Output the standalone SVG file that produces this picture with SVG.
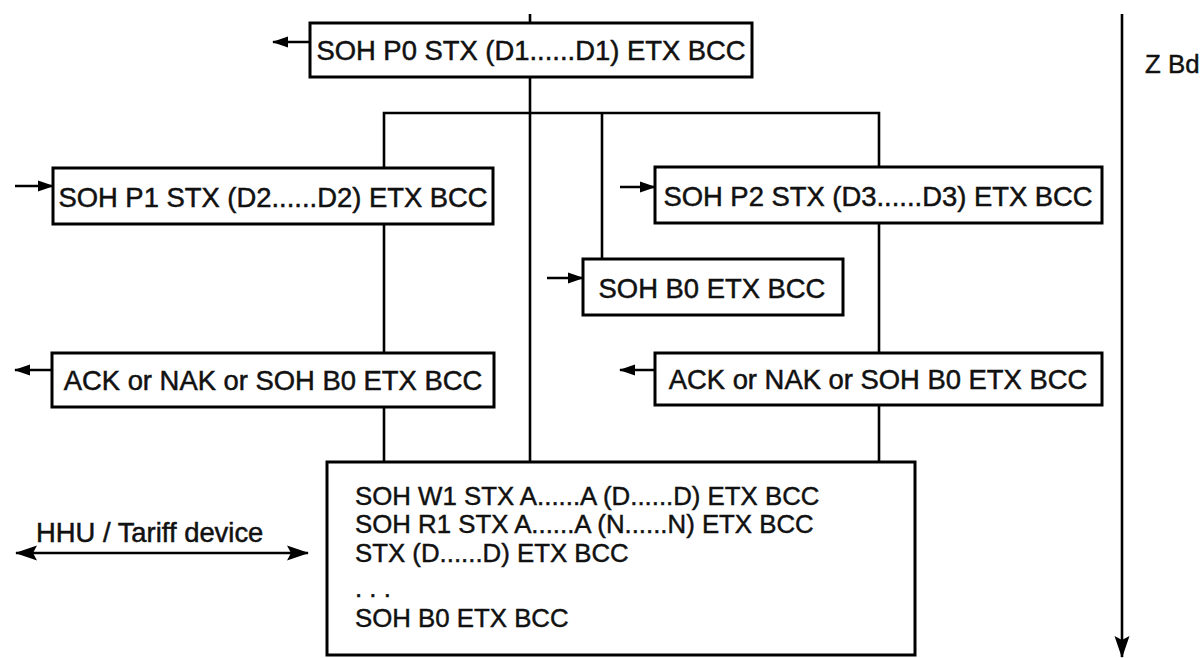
<svg xmlns="http://www.w3.org/2000/svg" width="1204" height="658" viewBox="0 0 1204 658">
<style>
.box{fill:#fff;stroke:#000;stroke-width:3}
.ln{fill:none;stroke:#000;stroke-width:2.6}
.t{font-family:"Liberation Sans",Arial,Helvetica,sans-serif;font-size:27.4px;fill:#111;stroke:#111;stroke-width:0.5}
.tb{font-family:"Liberation Sans",Arial,Helvetica,sans-serif;font-size:25.8px;fill:#111;stroke:#111;stroke-width:0.45}
</style>
<defs>
<marker id="ah" markerUnits="userSpaceOnUse" markerWidth="16" markerHeight="14" refX="15" refY="7" orient="auto-start-reverse"><path d="M0,1.5 L16,7 L0,12.5 z" fill="#000"/></marker>
<marker id="ahb" markerUnits="userSpaceOnUse" markerWidth="22" markerHeight="18" refX="21" refY="9" orient="auto-start-reverse"><path d="M0,1.5 L22,9 L0,16.5 L4,9 z" fill="#000"/></marker>
</defs>
<g id="connectors">
<line class="ln" x1="530" y1="14" x2="530" y2="462"/>
<polyline class="ln" points="384,168 384,113 879,113 879,167"/>
<line class="ln" x1="602" y1="113" x2="602" y2="259"/>
<line class="ln" x1="384" y1="224" x2="384" y2="353"/>
<line class="ln" x1="879" y1="223" x2="879" y2="353"/>
<line class="ln" x1="384" y1="407" x2="384" y2="462"/>
<line class="ln" x1="879" y1="405" x2="879" y2="462"/>
<line class="ln" x1="310" y1="42" x2="273" y2="42" marker-end="url(#ah)"/>
<line class="ln" x1="15" y1="186" x2="53" y2="186" marker-end="url(#ah)"/>
<line class="ln" x1="620" y1="187" x2="655" y2="187" marker-end="url(#ah)"/>
<line class="ln" x1="547" y1="278" x2="583" y2="278" marker-end="url(#ah)"/>
<line class="ln" x1="52" y1="370" x2="15" y2="370" marker-end="url(#ah)"/>
<line class="ln" x1="655" y1="370" x2="620" y2="370" marker-end="url(#ah)"/>
<line class="ln" x1="16" y1="553" x2="308" y2="553" marker-start="url(#ahb)" marker-end="url(#ahb)"/>
<line class="ln" x1="1122" y1="14" x2="1122" y2="657" stroke-width="3" marker-end="url(#ahb)"/>
</g>
<g id="p0">
<rect class="box" x="310" y="23" width="442" height="54"/>
<text class="t" x="531" y="60" text-anchor="middle">SOH P0 STX (D1......D1) ETX BCC</text>
</g>
<g id="p1">
<rect class="box" x="53" y="168" width="440" height="56"/>
<text class="t" x="273" y="207" text-anchor="middle">SOH P1 STX (D2......D2) ETX BCC</text>
</g>
<g id="p2">
<rect class="box" x="655" y="167" width="447" height="56"/>
<text class="t" x="878" y="206" text-anchor="middle">SOH P2 STX (D3......D3) ETX BCC</text>
</g>
<g id="b0">
<rect class="box" x="583" y="259" width="260" height="56"/>
<text class="t" x="712" y="298" text-anchor="middle">SOH B0 ETX BCC</text>
</g>
<g id="ack-left">
<rect class="box" x="52" y="353" width="442" height="54"/>
<text class="t" x="273" y="390" text-anchor="middle">ACK or NAK or SOH B0 ETX BCC</text>
</g>
<g id="ack-right">
<rect class="box" x="655" y="353" width="447" height="52"/>
<text class="t" x="878" y="389" text-anchor="middle">ACK or NAK or SOH B0 ETX BCC</text>
</g>
<g id="main">
<rect class="box" x="327" y="462" width="588" height="193"/>
<text class="tb" x="355" y="505">SOH W1 STX A......A (D......D) ETX BCC</text>
<text class="tb" x="355" y="533">SOH R1 STX A......A (N......N) ETX BCC</text>
<text class="tb" x="355" y="562">STX (D......D) ETX BCC</text>
<text class="tb" x="355" y="597">. . .</text>
<text class="tb" x="355" y="627">SOH B0 ETX BCC</text>
</g>
<g id="hhu-label">
<text class="t" x="36" y="542">HHU / Tariff device</text>
</g>
<g id="zbd-label">
<text class="tb" x="1145" y="73">Z Bd</text>
</g>
</svg>
